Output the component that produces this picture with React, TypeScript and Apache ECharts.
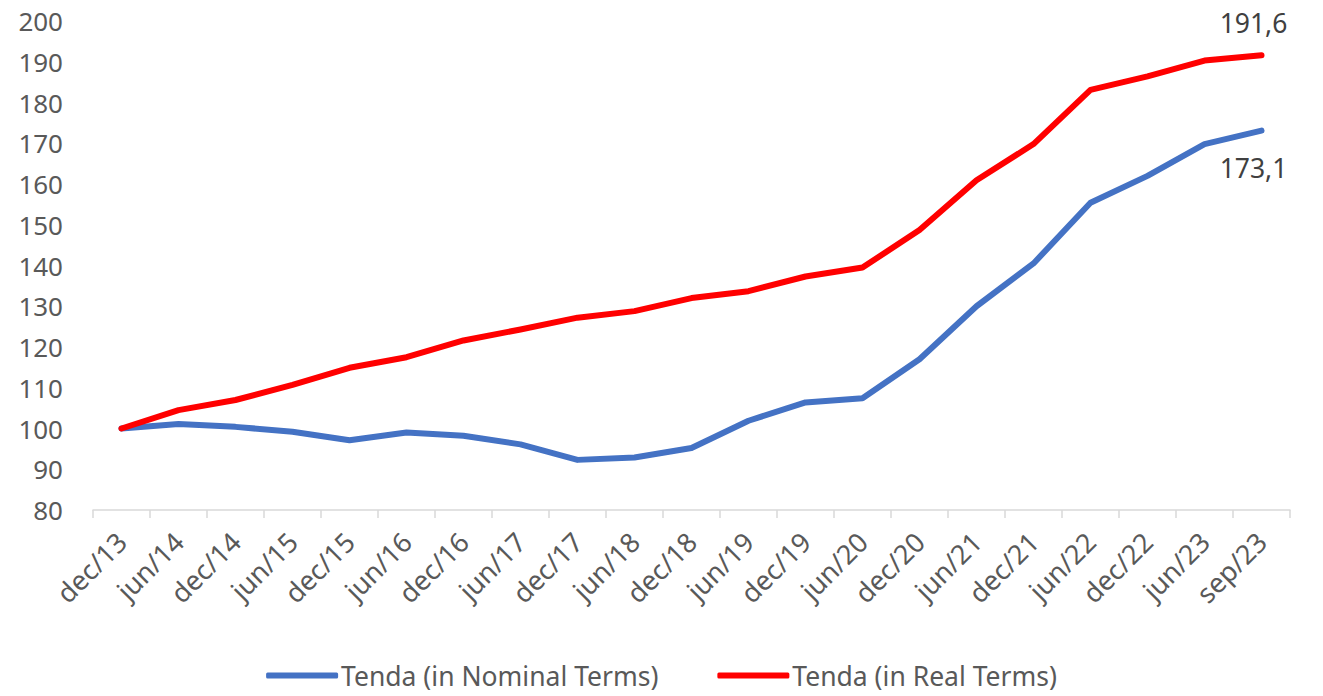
import React, { useEffect, useRef } from "react";
import * as echarts from "echarts";

const categories = [
  "dec/13", "jun/14", "dec/14", "jun/15", "dec/15", "jun/16", "dec/16",
  "jun/17", "dec/17", "jun/18", "dec/18", "jun/19", "dec/19", "jun/20",
  "dec/20", "jun/21", "dec/21", "jun/22", "dec/22", "jun/23", "sep/23",
];

const nominal = [
  100, 101.1, 100.4, 99.2, 97.1, 99.0, 98.2, 96.1, 92.3, 92.9, 95.2,
  101.9, 106.4, 107.4, 117.0, 130.0, 140.5, 155.4, 162.0, 169.8, 173.1,
];

const real = [
  100, 104.5, 107.0, 110.7, 114.9, 117.5, 121.6, 124.3, 127.2, 128.8, 132.0,
  133.7, 137.3, 139.5, 148.7, 160.9, 169.8, 183.1, 186.4, 190.3, 191.6,
];

const seriesNames = ["Tenda (in Nominal Terms)", "Tenda (in Real Terms)"];
const yMin = 80;
const yMax = 200;
const yStep = 10;

const FONT = "'Noto Sans', 'Open Sans', sans-serif";
const FS = 26;
const fmt = (v: number) => v.toFixed(1).replace(".", ",");

function withLastLabel(values: number[], position: "top" | "bottom", distance: number) {
  return values.map((v, i) =>
    i === values.length - 1
      ? {
          value: v,
          label: {
            show: true,
            position,
            distance,
            offset: [-8, 0],
            formatter: () => fmt(v),
            fontSize: 26.5,
            color: "#404040",
            fontFamily: FONT,
          },
        }
      : v
  );
}

export default function App() {
  const ref = useRef<HTMLDivElement>(null);
  useEffect(() => {
    document.body.style.margin = "0";
    if (!ref.current) return;
    const chart = echarts.init(ref.current, null, { renderer: "svg" });
    chart.setOption({
      animation: false,
      backgroundColor: "#ffffff",
      textStyle: { fontFamily: FONT },
      grid: { left: 93, right: 33, top: 21, bottom: 186, containLabel: false },
      legend: {
        bottom: 2,
        left: "center",
        itemWidth: 72,
        itemHeight: 6,
        itemGap: 59,
        icon: "roundRect",
        textStyle: { fontSize: 26.5, color: "#595959", fontFamily: FONT, padding: [0, 0, 0, -2] },
        data: seriesNames,
      },
      xAxis: {
        type: "category",
        data: categories,
        boundaryGap: true,
        axisLine: { lineStyle: { color: "#d9d9d9", width: 1.5 } },
        axisTick: { show: true, length: 8, lineStyle: { color: "#d9d9d9", width: 1.5 } },
        axisLabel: {
          rotate: 45,
          interval: 0,
          fontSize: 27,
          color: "#595959",
          margin: 27,
          fontFamily: FONT,
        },
      },
      yAxis: {
        type: "value",
        min: yMin,
        max: yMax,
        interval: yStep,
        axisLine: { show: false },
        axisTick: { show: false },
        splitLine: { show: false },
        axisLabel: { fontSize: FS, color: "#595959", margin: 30, fontFamily: FONT },
      },
      series: [
        {
          name: seriesNames[0],
          type: "line",
          data: withLastLabel(nominal, "bottom", 23),
          symbol: "circle",
          symbolSize: 1,
          lineStyle: { color: "#4472c4", width: 6, cap: "round", join: "round" },
          itemStyle: { color: "#4472c4" },
        },
        {
          name: seriesNames[1],
          type: "line",
          data: withLastLabel(real, "top", 18),
          symbol: "circle",
          symbolSize: 1,
          lineStyle: { color: "#ff0000", width: 6, cap: "round", join: "round" },
          itemStyle: { color: "#ff0000" },
        },
      ],
    });
    return () => chart.dispose();
  }, []);
  return <div ref={ref} style={{ width: 1323, height: 696 }} />;
}
